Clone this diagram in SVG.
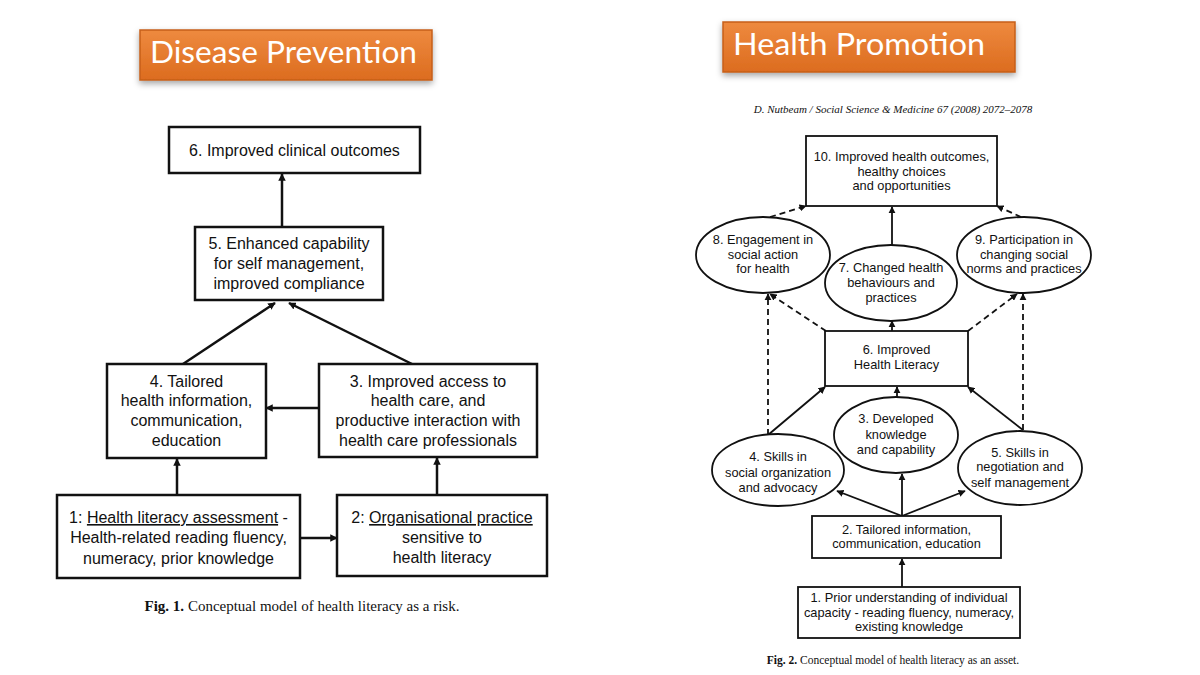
<svg xmlns="http://www.w3.org/2000/svg" width="1200" height="675" viewBox="0 0 1200 675">
<defs>
<linearGradient id="og" x1="0" y1="0" x2="0" y2="1">
<stop offset="0" stop-color="#ee8a3f"/>
<stop offset="1" stop-color="#dc6c1f"/>
</linearGradient>
<filter id="sh" x="-10%" y="-30%" width="120%" height="170%">
<feDropShadow dx="0" dy="3" stdDeviation="3" flood-color="#000" flood-opacity="0.35"/>
</filter>
<marker id="ah" viewBox="0 0 10 10" refX="9" refY="5" markerWidth="3" markerHeight="3" orient="auto" markerUnits="strokeWidth">
<path d="M0,0 L10,5 L0,10 z" fill="#111"/>
</marker>
<marker id="ah2" viewBox="0 0 10 10" refX="9" refY="5" markerWidth="4" markerHeight="4" orient="auto" markerUnits="strokeWidth">
<path d="M0,0 L10,5 L0,10 z" fill="#111"/>
</marker>
</defs>
<style>
.bxL{fill:#fff;stroke:#111;stroke-width:2.5}
.bxR{fill:#fff;stroke:#111;stroke-width:1.8}
.tL{font-family:"Liberation Sans",Arial,sans-serif;font-size:16px;fill:#111;text-anchor:middle}
.tR{font-family:"Liberation Sans",Arial,sans-serif;font-size:12.8px;fill:#111;text-anchor:middle}
.ttl{font-family:Lato,"Open Sans",sans-serif;font-size:31px;fill:#fff}
.cap{font-family:"Liberation Serif","Times New Roman",serif;fill:#111}
.cL{stroke:#111;stroke-width:2.5;fill:none;marker-end:url(#ah)}
.cR{stroke:#111;stroke-width:1.8;fill:none;marker-end:url(#ah2)}
.dR{stroke:#111;stroke-width:1.8;fill:none;stroke-dasharray:6,4;marker-end:url(#ah2)}
</style>
<rect width="1200" height="675" fill="#fff"/>

<g id="title-left">
<rect x="140" y="30" width="292" height="50" fill="url(#og)" stroke="#c65f18" stroke-width="1.5" filter="url(#sh)"/>
<text class="ttl" x="150" y="63" textLength="267" lengthAdjust="spacingAndGlyphs">Disease Prevention</text>
</g>
<g id="title-right">
<rect x="723" y="22" width="292" height="50" fill="url(#og)" stroke="#c65f18" stroke-width="1.5" filter="url(#sh)"/>
<text class="ttl" x="733" y="55" textLength="252" lengthAdjust="spacingAndGlyphs">Health Promotion</text>
</g>

<g id="connectors">
<line class="cL" x1="282" y1="227" x2="282" y2="174"/>
<line class="cL" x1="183" y1="364" x2="275" y2="303"/>
<line class="cL" x1="412" y1="364" x2="289" y2="303"/>
<line class="cL" x1="319" y1="408" x2="266" y2="408"/>
<line class="cL" x1="177" y1="495" x2="177" y2="459"/>
<line class="cL" x1="437" y1="495" x2="437" y2="458"/>
<line class="cL" x1="300" y1="538" x2="337" y2="538"/>

<line class="cR" x1="892" y1="245" x2="892" y2="207"/>
<line class="dR" x1="770" y1="217" x2="806" y2="206"/>
<line class="dR" x1="1021" y1="217" x2="997" y2="206"/>
<line class="cR" x1="892" y1="331" x2="892" y2="321"/>
<line class="dR" x1="826" y1="331" x2="770" y2="294"/>
<line class="dR" x1="968" y1="331" x2="1017" y2="294"/>
<line class="dR" x1="768" y1="435" x2="768" y2="294"/>
<line class="dR" x1="1023" y1="430" x2="1023" y2="294"/>
<line class="cR" x1="768" y1="435" x2="825" y2="387"/>
<line class="cR" x1="897" y1="397" x2="897" y2="387"/>
<line class="cR" x1="1023" y1="430" x2="968" y2="387"/>
<line class="cR" x1="902" y1="516" x2="837" y2="491"/>
<line class="cR" x1="902" y1="516" x2="902" y2="474"/>
<line class="cR" x1="902" y1="516" x2="965" y2="491"/>
<line class="cR" x1="902" y1="587" x2="902" y2="559"/>
</g>

<g id="L6"><rect class="bxL" x="169" y="127" width="251" height="46"/>
<text class="tL" x="294.5" y="156">6. Improved clinical outcomes</text></g>
<g id="L5"><rect class="bxL" x="195" y="227" width="188" height="73"/>
<text class="tL" x="289" y="249">5. Enhanced capability</text>
<text class="tL" x="289" y="269">for self management,</text>
<text class="tL" x="289" y="289">improved compliance</text></g>
<g id="L4"><rect class="bxL" x="107" y="364" width="159" height="94"/>
<text class="tL" x="186.5" y="387">4. Tailored</text>
<text class="tL" x="186.5" y="406">health information,</text>
<text class="tL" x="186.5" y="426">communication,</text>
<text class="tL" x="186.5" y="446">education</text></g>
<g id="L3"><rect class="bxL" x="319" y="364" width="218" height="93"/>
<text class="tL" x="428" y="387">3. Improved access to</text>
<text class="tL" x="428" y="406">health care, and</text>
<text class="tL" x="428" y="426">productive interaction with</text>
<text class="tL" x="428" y="446">health care professionals</text></g>
<g id="L1"><rect class="bxL" x="57" y="495" width="243" height="83"/>
<text class="tL" x="178.5" y="523">1: <tspan text-decoration="underline">Health literacy assessment</tspan> -</text>
<text class="tL" x="178.5" y="543">Health-related reading fluency,</text>
<text class="tL" x="178.5" y="564">numeracy, prior knowledge</text></g>
<g id="L2"><rect class="bxL" x="337" y="495" width="210" height="81"/>
<text class="tL" x="442" y="523">2: <tspan text-decoration="underline">Organisational practice</tspan></text>
<text class="tL" x="442" y="543">sensitive to</text>
<text class="tL" x="442" y="563">health literacy</text></g>
<g id="cap1"><text class="cap" x="302" y="611" font-size="15" text-anchor="middle"><tspan font-weight="bold">Fig. 1.</tspan> Conceptual model of health literacy as a risk.</text></g>

<g id="cite"><text class="cap" x="893" y="113" font-size="11" font-style="italic" text-anchor="middle">D. Nutbeam / Social Science &amp; Medicine 67 (2008) 2072–2078</text></g>

<g id="R10"><rect class="bxR" x="806" y="136" width="191" height="70"/>
<text class="tR" x="901.5" y="161">10. Improved health outcomes,</text>
<text class="tR" x="901.5" y="176">healthy choices</text>
<text class="tR" x="901.5" y="190">and opportunities</text></g>
<g id="R8"><ellipse class="bxR" cx="763" cy="255" rx="67" ry="38"/>
<text class="tR" x="763" y="244">8. Engagement in</text>
<text class="tR" x="763" y="259">social action</text>
<text class="tR" x="763" y="273">for health</text></g>
<g id="R7"><ellipse class="bxR" cx="891" cy="283" rx="66" ry="38"/>
<text class="tR" x="891" y="272">7. Changed health</text>
<text class="tR" x="891" y="287">behaviours and</text>
<text class="tR" x="891" y="302">practices</text></g>
<g id="R9"><ellipse class="bxR" cx="1024" cy="255" rx="67" ry="38"/>
<text class="tR" x="1024" y="244">9. Participation in</text>
<text class="tR" x="1024" y="259">changing social</text>
<text class="tR" x="1024" y="273">norms and practices</text></g>
<g id="R6"><rect class="bxR" x="825" y="331" width="143" height="55"/>
<text class="tR" x="896.5" y="354">6. Improved</text>
<text class="tR" x="896.5" y="369">Health Literacy</text></g>
<g id="R4"><ellipse class="bxR" cx="778" cy="470" rx="66" ry="36"/>
<text class="tR" x="778" y="461">4. Skills in</text>
<text class="tR" x="778" y="477">social organization</text>
<text class="tR" x="778" y="492">and advocacy</text></g>
<g id="R3"><ellipse class="bxR" cx="896" cy="435" rx="62" ry="38"/>
<text class="tR" x="896" y="423">3. Developed</text>
<text class="tR" x="896" y="439">knowledge</text>
<text class="tR" x="896" y="454">and capability</text></g>
<g id="R5"><ellipse class="bxR" cx="1020" cy="468" rx="62" ry="37"/>
<text class="tR" x="1020" y="457">5. Skills in</text>
<text class="tR" x="1020" y="471">negotiation and</text>
<text class="tR" x="1020" y="487">self management</text></g>
<g id="R2"><rect class="bxR" x="812" y="516" width="189" height="42"/>
<text class="tR" x="906.5" y="534">2. Tailored information,</text>
<text class="tR" x="906.5" y="548">communication, education</text></g>
<g id="R1"><rect class="bxR" x="798" y="587" width="222" height="51"/>
<text class="tR" x="909" y="602">1. Prior understanding of individual</text>
<text class="tR" x="909" y="617">capacity - reading fluency, numeracy,</text>
<text class="tR" x="909" y="631">existing knowledge</text></g>
<g id="cap2"><text class="cap" x="893" y="664" font-size="11.5" text-anchor="middle"><tspan font-weight="bold">Fig. 2.</tspan> Conceptual model of health literacy as an asset.</text></g>
</svg>
